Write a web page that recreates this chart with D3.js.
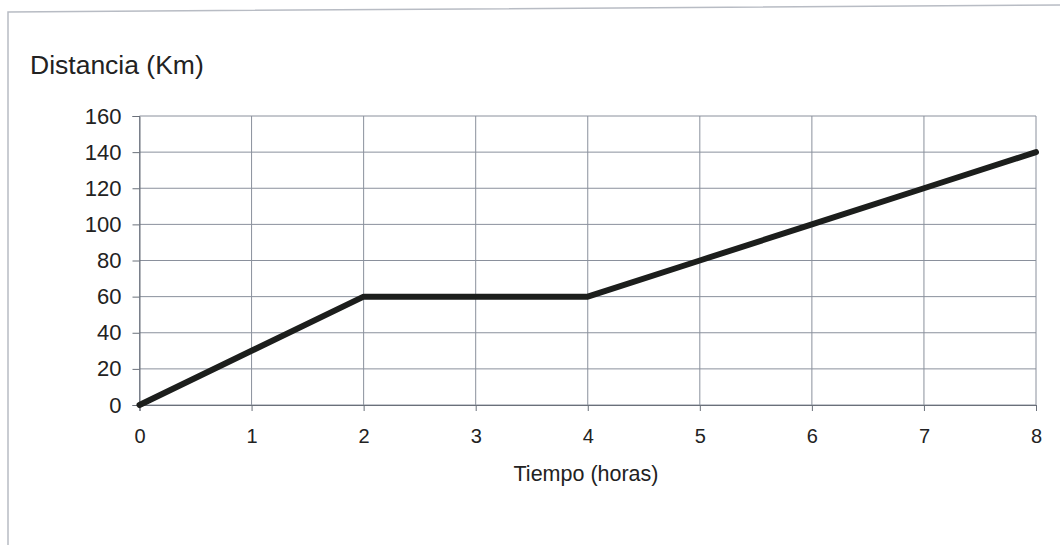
<!DOCTYPE html>
<html>
<head>
<meta charset="utf-8">
<script src="https://cdn.jsdelivr.net/npm/d3@7"></script>
<style>
  body { margin: 0; background: #fff; }
  svg { display: block; font-family: "Liberation Sans", Arial, sans-serif; }
</style>
</head>
<body>
<div id="chart"></div>
<script>
// data
const horas = [0, 1, 2, 3, 4, 5, 6, 7, 8];
const distancia = [0, 30, 60, 60, 60, 80, 100, 120, 140];
const xTicks = [0, 1, 2, 3, 4, 5, 6, 7, 8];
const yTicks = [0, 20, 40, 60, 80, 100, 120, 140, 160];

const width = 1060, height = 545;

const svg = d3.select("#chart")
    .append("svg")
    .attr("width", width)
    .attr("height", height);

// outer frame (top and left edges visible)
svg.append("path")
    .attr("d", "M8,545 L8,12 L1060,5")
    .attr("fill", "none")
    .attr("stroke", "#b8bcc4")
    .attr("stroke-width", 1.5);

const xScale = d3.scaleLinear()
    .domain([0, 8])
    .range([139.5, 1036]);

const yScale = d3.scaleLinear()
    .domain([0, 160])
    .range([405, 116]);

// gridlines
svg.append("g")
    .selectAll("line")
    .data(yTicks)
    .enter()
    .append("line")
    .attr("x1", xScale(0))
    .attr("x2", xScale(8))
    .attr("y1", (d) => yScale(d))
    .attr("y2", (d) => yScale(d))
    .attr("stroke", "#8a909c")
    .attr("stroke-width", 1);

svg.append("g")
    .selectAll("line")
    .data(xTicks)
    .enter()
    .append("line")
    .attr("x1", (d) => xScale(d))
    .attr("x2", (d) => xScale(d))
    .attr("y1", yScale(0))
    .attr("y2", yScale(160))
    .attr("stroke", "#8a909c")
    .attr("stroke-width", 1);

// axes
const xAxis = d3.axisBottom(xScale)
    .tickValues(xTicks)
    .tickSize(6)
    .tickPadding(18);
const gx = svg.append("g")
    .attr("transform", `translate(0, ${yScale(0)})`)
    .call(xAxis);

const yAxis = d3.axisLeft(yScale)
    .tickValues(yTicks)
    .tickSize(7)
    .tickPadding(11);
const gy = svg.append("g")
    .attr("transform", `translate(${xScale(0)}, 0)`)
    .call(yAxis);

[gx, gy].forEach((g) => {
    g.select(".domain").attr("stroke", "#6a707a");
    g.selectAll(".tick line").attr("stroke", "#6a707a");
    g.selectAll(".tick text")
        .attr("fill", "#222")
        .style("font-family", "'Liberation Sans', Arial, sans-serif");
});
gx.selectAll(".tick text").style("font-size", "20px");
gy.selectAll(".tick text").style("font-size", "22px");

// the line
const line = d3.line()
    .x((d, i) => xScale(horas[i]))
    .y((d) => yScale(d));

svg.append("path")
    .datum(distancia)
    .attr("d", line)
    .attr("fill", "none")
    .attr("stroke", "#1c1e1c")
    .attr("stroke-width", 6)
    .attr("stroke-linejoin", "round")
    .attr("stroke-linecap", "round");

// labels
svg.append("text")
    .attr("x", 30)
    .attr("y", 74)
    .attr("fill", "#222")
    .style("font-size", "26.5px")
    .text("Distancia (Km)");

svg.append("text")
    .attr("text-anchor", "middle")
    .attr("x", 586)
    .attr("y", 481)
    .attr("fill", "#222")
    .style("font-size", "21.5px")
    .text("Tiempo (horas)");
</script>
</body>
</html>
